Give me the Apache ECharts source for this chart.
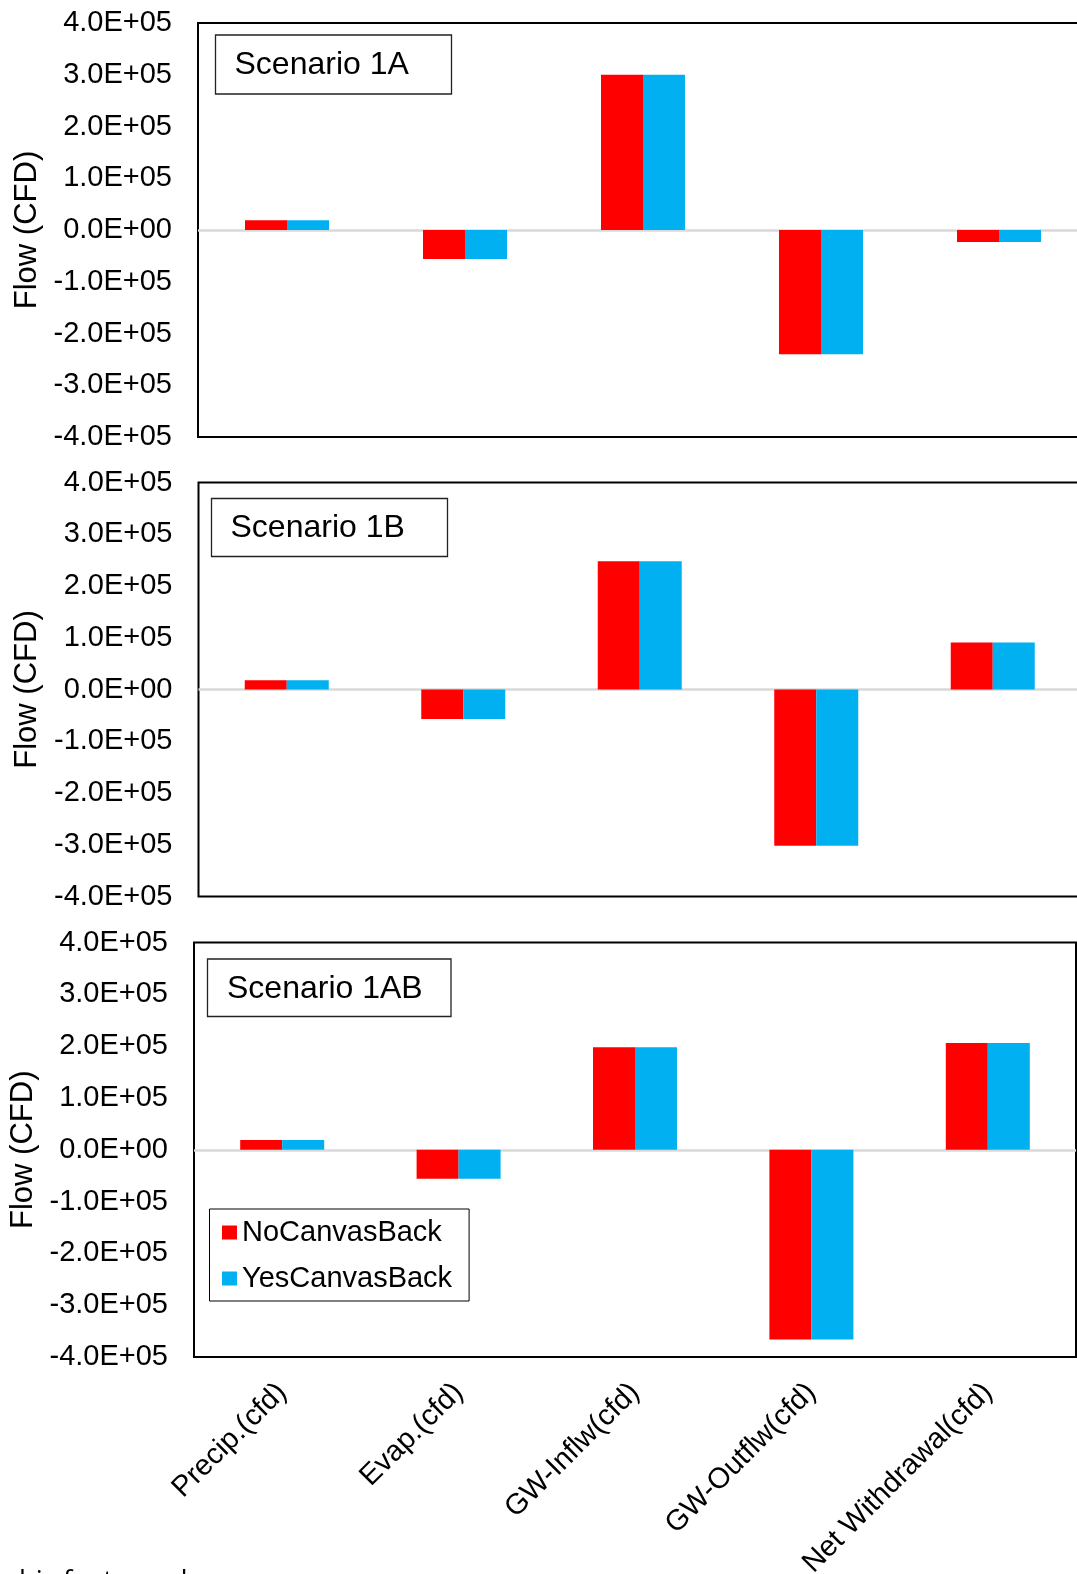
<!DOCTYPE html>
<html>
<head>
<meta charset="utf-8">
<script src="https://cdn.jsdelivr.net/npm/echarts@6/dist/echarts.min.js"></script>
<style>
html,body{margin:0;padding:0;background:#fff;overflow:hidden;width:1077px;height:1574px;}
#c{width:1100px;height:1574px;}
</style>
</head>
<body>
<div id="c"></div>
<script>
// ---- data ----
const categories = ['Precip.(cfd)', 'Evap.(cfd)', 'GW-Inflw(cfd)', 'GW-Outflw(cfd)', 'Net Withdrawal(cfd)'];
const seriesNames = ['NoCanvasBack', 'YesCanvasBack'];
const panelTitles = ['Scenario 1A', 'Scenario 1B', 'Scenario 1AB'];
const s1A_No  = [19000, -56000, 300000, -240000, -23000];
const s1A_Yes = [19000, -56000, 300000, -240000, -23000];
const s1B_No  = [18000, -57000, 248000, -302000, 91000];
const s1B_Yes = [18000, -57000, 248000, -302000, 91000];
const s1AB_No  = [19000, -56000, 198000, -366000, 206000];
const s1AB_Yes = [19000, -56000, 198000, -366000, 206000];
const yMin = -400000, yMax = 400000, yStep = 100000;
const yAxisTitle = 'Flow (CFD)';
const footnote = 'cubic feet per day';

const panelData = [[s1A_No, s1A_Yes], [s1B_No, s1B_Yes], [s1AB_No, s1AB_Yes]];
const colors = ['#FF0000', '#00B0F0'];

function sci(v) {
  if (v === 0) return '0.0E+00';
  const e = Math.floor(Math.log10(Math.abs(v)) + 1e-9);
  const m = v / Math.pow(10, e);
  return m.toFixed(1) + 'E' + (e < 0 ? '-' : '+') + String(Math.abs(e)).padStart(2, '0');
}

const FONT = '"Liberation Sans", Arial, sans-serif';
const grids = [
  {left: 198, top: 23, width: 890, height: 414},
  {left: 198.5, top: 482.5, width: 882.5, height: 414},
  {left: 194, top: 942.5, width: 882, height: 414.5}
];
const boxes = [
  {x: 215.5, y: 35, w: 236, h: 59, tx: 234.5, ty: 65},
  {x: 211.5, y: 498.5, w: 236, h: 58, tx: 230.5, ty: 528},
  {x: 207.5, y: 959, w: 243.5, h: 57.5, tx: 227, ty: 989}
];

const option = {
  backgroundColor: '#fff',
  animation: false,
  grid: grids.map(g => Object.assign({show: true, borderColor: '#000', borderWidth: 2, containLabel: false, outerBoundsMode: 'none'}, g)),
  xAxis: grids.map((g, i) => ({
    type: 'category', gridIndex: i, data: categories, boundaryGap: true,
    axisLine: {show: false}, axisTick: {show: false}, splitLine: {show: false},
    axisLabel: i === 2 ? {show: true, rotate: 45, interval: 0, margin: 31, fontSize: 29, color: '#000', fontFamily: FONT} : {show: false}
  })),
  yAxis: grids.map((g, i) => ({
    type: 'value', gridIndex: i, min: yMin, max: yMax, interval: yStep,
    name: yAxisTitle, nameLocation: 'middle', nameGap: 152,
    nameTextStyle: {fontSize: 31, color: '#000', fontFamily: FONT},
    axisLine: {show: false}, axisTick: {show: false}, splitLine: {show: false},
    axisLabel: {formatter: sci, margin: 26, fontSize: 29, color: '#000', fontFamily: FONT}
  })),
  legend: {
    data: seriesNames, orient: 'vertical', left: 209.5, top: 1209,
    borderColor: '#000', borderWidth: 1, padding: [9, 17, 8, 12.5],
    itemWidth: 15, itemHeight: 14, itemGap: 17, icon: 'rect',
    textStyle: {fontSize: 29, color: '#000', fontFamily: FONT}
  },
  series: [],
  graphic: []
};

panelData.forEach((pd, i) => {
  pd.forEach((vals, k) => {
    const s = {
      name: seriesNames[k], type: 'bar', xAxisIndex: i, yAxisIndex: i,
      data: vals, barWidth: 42, barGap: '0%',
      itemStyle: {color: colors[k]}
    };
    if (k === 0) {
      s.markLine = {
        silent: true, symbol: ['none', 'none'], label: {show: false},
        lineStyle: {color: '#d9d9d9', width: 2.5, type: 'solid'},
        data: [{yAxis: 0}], z: 1
      };
    }
    option.series.push(s);
  });
  const b = boxes[i];
  option.graphic.push({
    type: 'rect', shape: {x: b.x, y: b.y, width: b.w, height: b.h},
    style: {fill: '#fff', stroke: '#222', lineWidth: 1.3}, z: 10
  });
  option.graphic.push({
    type: 'text', x: b.tx, y: b.ty,
    style: {text: panelTitles[i], font: '32px ' + FONT, fill: '#000', textVerticalAlign: 'middle', verticalAlign: 'middle'}, z: 11
  });
});

option.graphic.push({
  type: 'text', x: -11, y: 1568,
  style: {text: footnote, font: '27.5px "Open Sans", sans-serif', fill: '#000', verticalAlign: 'top', textVerticalAlign: 'top'}, z: 11
});

const chart = echarts.init(document.getElementById('c'), null, {renderer: 'canvas'});
chart.setOption(option);
</script>
</body>
</html>
